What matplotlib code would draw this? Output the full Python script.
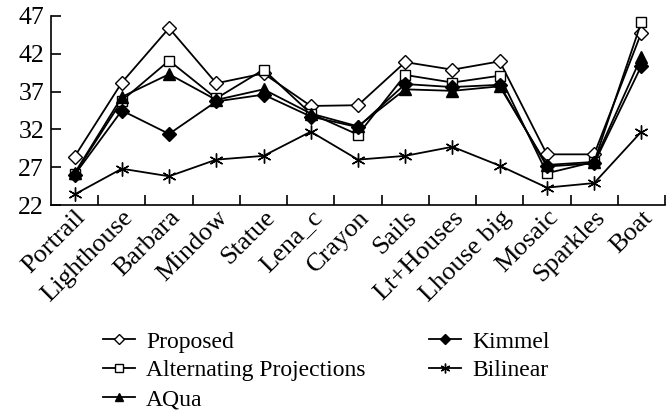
import matplotlib
matplotlib.use("Agg")
import matplotlib.pyplot as plt
from matplotlib.transforms import ScaledTranslation

categories = ["Portrail", "Lighthouse", "Barbara", "Mindow", "Statue", "Lena_c", "Crayon",
              "Sails", "Lt+Houses", "Lhouse big", "Mosaic", "Sparkles", "Boat"]
proposed = [28.4, 38.2, 45.4, 38.1, 39.4, 35.1, 35.2, 40.9, 39.9, 41.0, 28.7, 28.7, 44.8]
alternating = [26.1, 35.8, 41.1, 36.1, 39.9, 34.1, 31.3, 39.2, 38.2, 39.1, 26.2, 27.7, 46.2]
aqua = [26.2, 36.3, 39.3, 35.9, 37.3, 34.1, 32.4, 37.3, 37.1, 37.7, 27.3, 27.7, 41.6]
kimmel = [26.0, 34.5, 31.4, 35.7, 36.6, 33.7, 32.3, 38.0, 37.6, 37.9, 27.1, 27.5, 40.4]
bilinear = [23.4, 26.8, 25.8, 28.0, 28.5, 31.7, 28.0, 28.5, 29.7, 27.2, 24.3, 24.9, 31.7]
yticks = [22, 27, 32, 37, 42, 47]

plt.rcParams['font.family'] = ['Liberation Serif', 'DejaVu Serif']

fig = plt.figure(figsize=(6.66, 4.19), dpi=100)
ax = fig.add_axes([51/666, 1 - 205/419, (665-51)/666, (205-16)/419])

x = list(range(len(categories)))
common = dict(color='black', lw=1.3, clip_on=False)
ax.plot(x, proposed, marker='D', ms=7, mfc='white', mec='black', mew=1.0, label='Proposed', **common)
ax.plot(x, alternating, marker='s', ms=7.5, mfc='white', mec='black', mew=1.0, label='Alternating Projections', **common)
ax.plot(x, aqua, marker='^', ms=8, mfc='black', mec='black', label='AQua', **common)
ax.plot(x, kimmel, marker='D', ms=7, mfc='black', mec='black', label='Kimmel', **common)
ax.plot(x, bilinear, marker=(6, 2, 0), ms=10, mfc='black', mec='black', mew=1.0, label='Bilinear', **common)

ax.set_xlim(-0.5, len(categories) - 0.5)
ax.set_ylim(22, 47)
ax.set_yticks(yticks)
ax.set_yticklabels([str(v) for v in yticks], fontsize=18.5)
ax.set_xticks([i + 0.5 for i in range(len(categories))])
ax.set_xticklabels([])
ax.set_xticks(x, minor=True)
labs = ax.set_xticklabels(categories, minor=True, rotation=45, ha='right', va='top',
                          rotation_mode='anchor', fontsize=19)
offset = ScaledTranslation(7/100, -1/100, fig.dpi_scale_trans)
for lab in labs:
    lab.set_transform(lab.get_transform() + offset)
ax.tick_params(axis='x', which='minor', length=0, pad=1)
ax.tick_params(axis='x', which='major', direction='in', length=7, width=1.2)
ax.tick_params(axis='y', which='major', direction='in', length=7, width=1.2, pad=5)
for s in ['top', 'right']:
    ax.spines[s].set_visible(False)
for s in ['left', 'bottom']:
    ax.spines[s].set_linewidth(1.2)

leg = fig.legend(loc='upper left', bbox_to_anchor=(103/666, 1 - 331/419), ncol=2, frameon=False,
                 fontsize=17, handlelength=1.36, handletextpad=0.47, columnspacing=2.69,
                 labelspacing=0.31, markerscale=0.7, borderpad=0, borderaxespad=0)

fig.savefig('out.png', dpi=100)
